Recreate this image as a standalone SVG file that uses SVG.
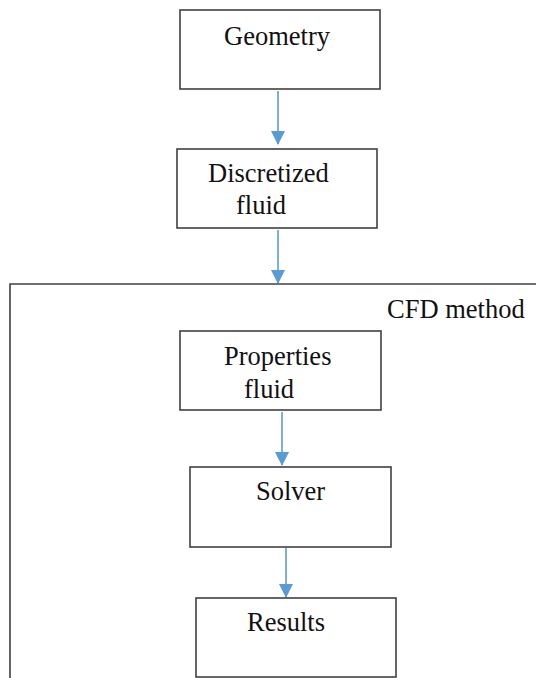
<svg xmlns="http://www.w3.org/2000/svg" width="536" height="678" viewBox="0 0 536 678">
<style>
.box{fill:#fff;stroke:#404040;stroke-width:1.6}
.t{font-family:"Liberation Serif","Times New Roman",serif;font-size:26.5px;fill:#111}
.c{stroke:#5b9bd5;stroke-width:1.6;fill:none}
</style>
<defs>
<marker id="ah2" markerWidth="14" markerHeight="14" refX="13" refY="7" orient="auto" markerUnits="userSpaceOnUse" viewBox="0 0 14 14">
<path d="M0,0 L14,7 L0,14 z" fill="#5b9bd5"/>
</marker>
</defs>
<rect width="536" height="678" fill="#fff"/>
<g id="cfd-method">
<path d="M10,678 L10,284 L536,284" fill="none" stroke="#404040" stroke-width="1.6"/>
<text class="t" x="387" y="318">CFD method</text>
</g>
<g id="connectors">
<line class="c" x1="278" y1="91" x2="278" y2="144" marker-end="url(#ah2)"/>
<line class="c" x1="278" y1="230" x2="278" y2="283" marker-end="url(#ah2)"/>
<line class="c" x1="282" y1="412" x2="282" y2="465" marker-end="url(#ah2)"/>
<line class="c" x1="286" y1="548" x2="286" y2="597" marker-end="url(#ah2)"/>
</g>
<g id="geometry">
<rect class="box" x="180" y="10" width="200" height="79"/>
<text class="t" x="224" y="45">Geometry</text>
</g>
<g id="discretized-fluid">
<rect class="box" x="177" y="149" width="200" height="79"/>
<text class="t" x="208" y="182">Discretized</text>
<text class="t" x="236" y="214">fluid</text>
</g>
<g id="properties-fluid">
<rect class="box" x="180" y="331" width="201" height="79"/>
<text class="t" x="224" y="365">Properties</text>
<text class="t" x="244" y="398">fluid</text>
</g>
<g id="solver">
<rect class="box" x="190" y="467" width="201" height="80"/>
<text class="t" x="256" y="500">Solver</text>
</g>
<g id="results">
<rect class="box" x="196" y="598" width="200" height="79"/>
<text class="t" x="247" y="631">Results</text>
</g>
</svg>
